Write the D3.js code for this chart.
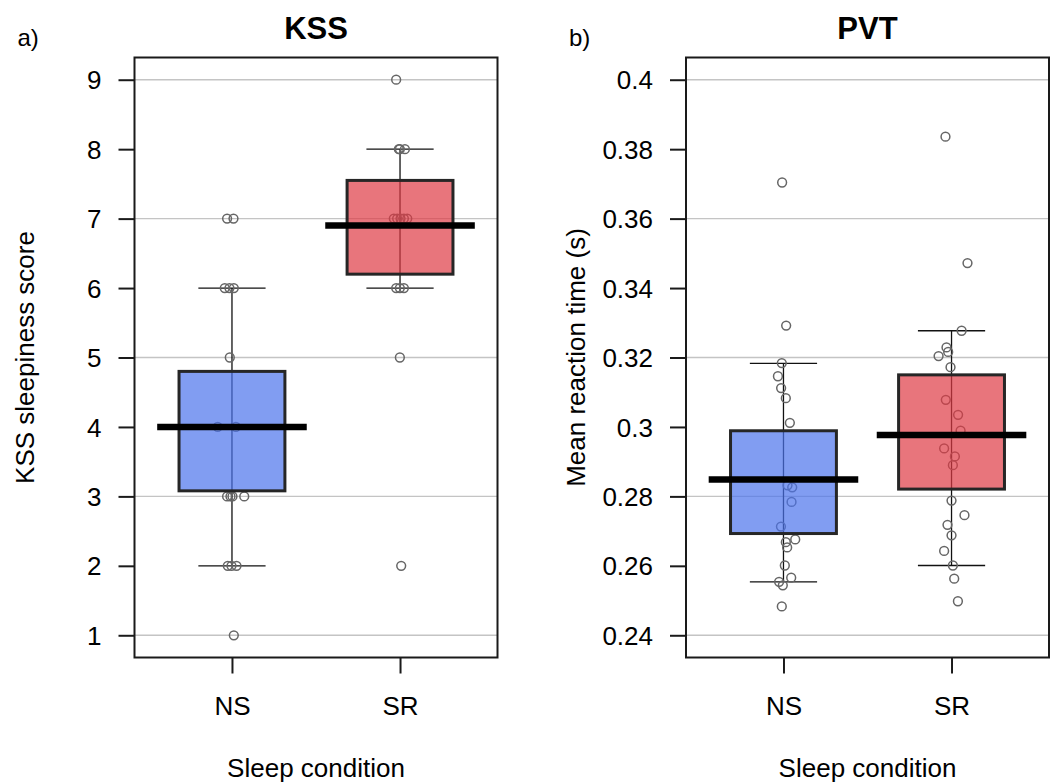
<!DOCTYPE html>
<html>
<head>
<meta charset="utf-8">
<script src="https://cdn.jsdelivr.net/npm/d3@7"></script>
<style>
  html, body { margin: 0; padding: 0; background: #fff; }
  svg { display: block; font-family: "Liberation Sans", Arial, Helvetica, sans-serif; }
</style>
</head>
<body>
<svg id="chart" width="1052" height="782"></svg>
<script>
// ---------- data ----------
const categories = ["NS", "SR"];

// KSS panel
const kssTicks = [1, 2, 3, 4, 5, 6, 7, 8, 9];
const kssTickLabels = ["1", "2", "3", "4", "5", "6", "7", "8", "9"];
const kssGrid = [1, 3, 5, 7, 9];
const kssLimits = [1, 9];
const kssQ1 = [3.08, 6.2];
const kssMedian = [4.0, 6.9];
const kssQ3 = [4.8, 7.55];
const kssWhiskerLow = [2, 6];
const kssWhiskerHigh = [6, 8];
const kssNS = [7, 7, 6, 6, 6, 5, 4, 4, 3, 3, 3, 3, 2, 2, 2, 1];
const kssNSJitter = [-0.029, 0.009, -0.043, -0.015, 0.011, -0.013, -0.085, 0.023, -0.029, -0.009, 0.003, 0.073, -0.025, -0.003, 0.027, 0.011];
const kssSR = [9, 8, 8, 8, 7, 7, 7, 7, 7, 6, 6, 6, 5, 2];
const kssSRJitter = [-0.023, -0.007, -0.001, 0.029, -0.037, -0.017, 0.003, 0.023, 0.043, -0.023, -0.001, 0.023, -0.001, 0.007];

// PVT panel
const pvtTicks = [0.24, 0.26, 0.28, 0.30, 0.32, 0.34, 0.36, 0.38, 0.40];
const pvtTickLabels = ["0.24", "0.26", "0.28", "0.3", "0.32", "0.34", "0.36", "0.38", "0.4"];
const pvtGrid = [0.24, 0.28, 0.32, 0.36, 0.40];
const pvtLimits = [0.24, 0.40];
const pvtQ1 = [0.2693, 0.2821];
const pvtMedian = [0.2849, 0.2977];
const pvtQ3 = [0.2989, 0.3150];
const pvtWhiskerLow = [0.2554, 0.2601];
const pvtWhiskerHigh = [0.3183, 0.3277];
const pvtNS = [0.3704, 0.3292, 0.3184, 0.3146, 0.3112, 0.3083, 0.3012, 0.2832, 0.2826, 0.2784, 0.2713, 0.2668, 0.2676, 0.2653, 0.2601, 0.2554, 0.2566, 0.2544, 0.2483];
const pvtNSJitter = [-0.008, 0.016, -0.010, -0.033, -0.014, 0.014, 0.038, 0.024, 0.052, 0.048, -0.015, 0.014, 0.070, 0.022, 0.008, -0.026, 0.046, -0.004, -0.010];
const pvtSR = [0.3836, 0.3472, 0.3277, 0.3229, 0.3216, 0.3204, 0.3172, 0.3078, 0.3035, 0.2989, 0.2938, 0.2915, 0.2890, 0.2788, 0.2746, 0.2718, 0.2688, 0.2643, 0.2601, 0.2563, 0.2498];
const pvtSRJitter = [-0.036, 0.095, 0.060, -0.030, -0.020, -0.077, -0.006, -0.034, 0.039, 0.054, -0.044, 0.020, 0.008, 0.000, 0.077, -0.024, 0.000, -0.044, 0.008, 0.016, 0.038];

const fills = ["#4c74ec", "#de3b44"];

// ---------- drawing ----------
const svg = d3.select("#chart");
const FONT = "'Liberation Sans', Arial, Helvetica, sans-serif";

function panel(cfg) {
  const left = cfg.left, right = cfg.left + 363, top = 57.5, bottom = 657.5;
  const g = svg.append("g");
  const ext = (cfg.limits[1] - cfg.limits[0]) * 0.04;
  const y = d3.scaleLinear().domain([cfg.limits[0] - ext, cfg.limits[1] + ext]).range([bottom, top]);
  const x = d3.scaleLinear().domain([0.42, 2.58]).range([left, right]);

  // grid
  g.selectAll("line.grid").data(cfg.grid).join("line")
    .attr("x1", left).attr("x2", right)
    .attr("y1", d => y(d)).attr("y2", d => y(d))
    .attr("stroke", "#c4c4c4").attr("stroke-width", 1.4);

  const groups = categories.map((c, i) => ({
    i, pos: i + 1, q1: cfg.q1[i], med: cfg.med[i], q3: cfg.q3[i],
    lo: cfg.lo[i], hi: cfg.hi[i], pts: cfg.pts[i], jit: cfg.jit[i]
  }));

  // whiskers
  groups.forEach(gr => {
    g.append("line").attr("x1", x(gr.pos)).attr("x2", x(gr.pos))
      .attr("y1", y(gr.lo)).attr("y2", y(gr.hi))
      .attr("stroke", "#111").attr("stroke-width", 1.3);
    [gr.lo, gr.hi].forEach(v => {
      g.append("line").attr("x1", x(gr.pos - 0.2)).attr("x2", x(gr.pos + 0.2))
        .attr("y1", y(v)).attr("y2", y(v))
        .attr("stroke", "#111").attr("stroke-width", 1.3);
    });
  });

  // points
  groups.forEach(gr => {
    g.selectAll(null).data(gr.pts.map((v, k) => ({ v, j: gr.jit[k] }))).join("circle")
      .attr("cx", d => x(gr.pos + d.j)).attr("cy", d => y(d.v)).attr("r", 4.4)
      .attr("fill", "none").attr("stroke", "#666").attr("stroke-width", 1.5);
  });

  // boxes
  groups.forEach(gr => {
    g.append("rect")
      .attr("x", x(gr.pos - 0.315)).attr("width", x(gr.pos + 0.315) - x(gr.pos - 0.315))
      .attr("y", y(gr.q3)).attr("height", y(gr.q1) - y(gr.q3))
      .attr("fill", fills[gr.i]).attr("fill-opacity", 0.7)
      .attr("stroke", "#262626").attr("stroke-width", 3);
    g.append("line")
      .attr("x1", x(gr.pos - 0.445)).attr("x2", x(gr.pos + 0.445))
      .attr("y1", y(gr.med)).attr("y2", y(gr.med))
      .attr("stroke", "#000").attr("stroke-width", 6.5);
  });

  // frame
  g.append("rect").attr("x", left).attr("y", top).attr("width", right - left).attr("height", bottom - top)
    .attr("fill", "none").attr("stroke", "#1a1a1a").attr("stroke-width", 2);

  // y axis
  const yAxis = d3.axisLeft(y).tickValues(cfg.ticks).tickSize(16).tickPadding(17)
    .tickFormat((d, i) => cfg.tickLabels[i]);
  const ya = g.append("g").attr("transform", `translate(${left},0)`).call(yAxis);
  ya.select(".domain").remove();
  ya.selectAll(".tick line").attr("stroke", "#1a1a1a").attr("stroke-width", 2);
  ya.selectAll(".tick text").attr("font-size", 26).attr("fill", "#000")
    .attr("font-family", FONT).attr("dy", "0.35em");

  // x axis
  const xAxis = d3.axisBottom(x).tickValues([1, 2]).tickSize(16).tickPadding(23)
    .tickFormat((d) => categories[d - 1]);
  const xa = g.append("g").attr("transform", `translate(0,${bottom})`).call(xAxis);
  xa.select(".domain").remove();
  xa.selectAll(".tick line").attr("stroke", "#1a1a1a").attr("stroke-width", 2);
  xa.selectAll(".tick text").attr("font-size", 26).attr("fill", "#000")
    .attr("font-family", FONT);

  // labels
  const cx = (left + right) / 2;
  g.append("text").attr("x", cx).attr("y", 38.5).attr("text-anchor", "middle")
    .attr("font-size", 31).attr("font-weight", "bold").text(cfg.title);
  g.append("text").attr("x", cx).attr("y", 776.5).attr("text-anchor", "middle")
    .attr("font-size", 26).text("Sleep condition");
  g.append("text").attr("transform", `translate(${left - 101},${(top + bottom) / 2}) rotate(-90)`)
    .attr("text-anchor", "middle").attr("font-size", 26).text(cfg.ylabel);
  g.append("text").attr("x", left - 117).attr("y", 46).attr("font-size", 24).text(cfg.tag);
}

panel({
  left: 134.5, title: "KSS", tag: "a)", ylabel: "KSS sleepiness score",
  limits: kssLimits, ticks: kssTicks, tickLabels: kssTickLabels, grid: kssGrid,
  q1: kssQ1, med: kssMedian, q3: kssQ3, lo: kssWhiskerLow, hi: kssWhiskerHigh,
  pts: [kssNS, kssSR], jit: [kssNSJitter, kssSRJitter]
});
panel({
  left: 686, title: "PVT", tag: "b)", ylabel: "Mean reaction time (s)",
  limits: pvtLimits, ticks: pvtTicks, tickLabels: pvtTickLabels, grid: pvtGrid,
  q1: pvtQ1, med: pvtMedian, q3: pvtQ3, lo: pvtWhiskerLow, hi: pvtWhiskerHigh,
  pts: [pvtNS, pvtSR], jit: [pvtNSJitter, pvtSRJitter]
});
</script>
</body>
</html>
